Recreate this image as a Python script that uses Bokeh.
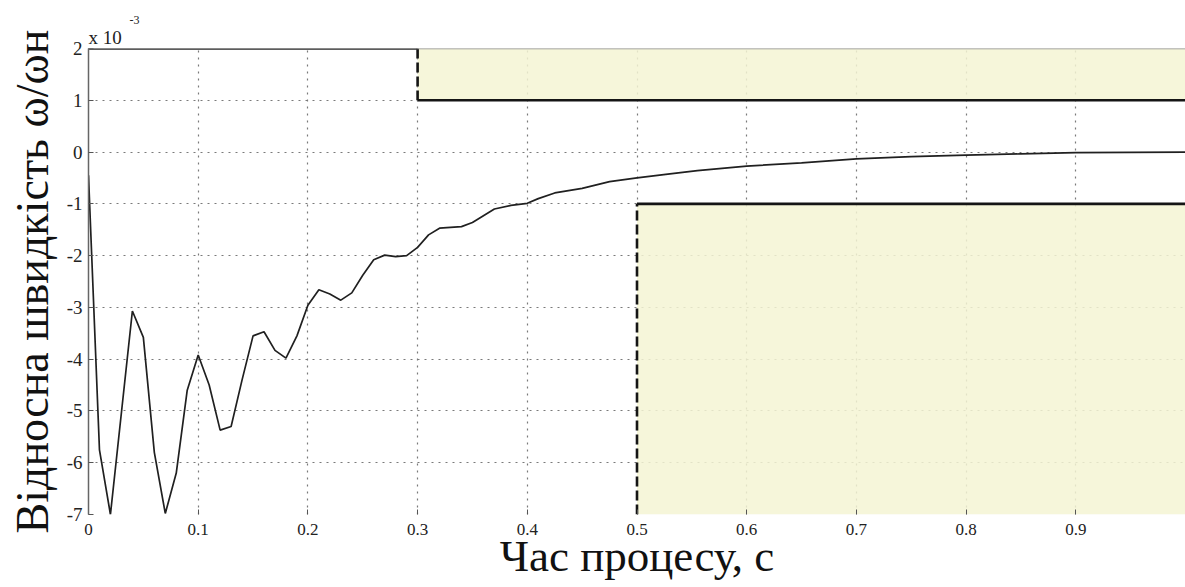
import numpy as np
from bokeh.plotting import figure
from bokeh.models import Span, FixedTicker, CustomJSTickFormatter, Range1d, Title
from bokeh.embed import file_html
from bokeh.resources import INLINE

# ---- data (speed in units of 1e-3) ----
time_s = [0.0, 0.01, 0.02, 0.04, 0.05, 0.06, 0.07, 0.08, 0.09, 0.10,
          0.11, 0.12, 0.13, 0.14, 0.15, 0.16, 0.17, 0.18, 0.19, 0.20,
          0.21, 0.22, 0.23, 0.24, 0.25, 0.26, 0.27, 0.28, 0.29, 0.30,
          0.31, 0.32, 0.34, 0.35, 0.37, 0.385, 0.40, 0.41, 0.425, 0.45,
          0.475, 0.50, 0.53, 0.555, 0.58, 0.60, 0.65, 0.70, 0.75, 0.80,
          0.85, 0.90, 1.00]
speed = [-0.45, -5.75, -7.0, -3.07, -3.58, -5.8, -6.98, -6.2, -4.6, -3.92,
         -4.5, -5.37, -5.3, -4.4, -3.55, -3.47, -3.83, -3.98, -3.55, -2.96,
         -2.66, -2.74, -2.86, -2.72, -2.38, -2.08, -1.99, -2.02, -2.0, -1.84,
         -1.6, -1.47, -1.44, -1.36, -1.1, -1.03, -0.99, -0.9, -0.79, -0.70,
         -0.57, -0.50, -0.42, -0.36, -0.31, -0.27, -0.21, -0.13, -0.09, -0.06,
         -0.035, -0.01, 0.0]

# permissible band boundaries
upper_switch_t = 0.3
upper_before = 2.0
upper_after = 1.0
lower_switch_t = 0.5
lower_after = -1.0
t_end = 1.0
y_min, y_max = -7.0, 2.0

x_ticks = [0.0, 0.1, 0.2, 0.3, 0.4, 0.5, 0.6, 0.7, 0.8, 0.9]
y_ticks = [-7, -6, -5, -4, -3, -2, -1, 0, 1, 2]

SERIF = "Liberation Serif"

p = figure(width=1185, height=587, output_backend="svg", toolbar_location=None,
           x_range=Range1d(0, t_end), y_range=Range1d(y_min, y_max),
           min_border_left=88, min_border_right=0, min_border_top=48,
           min_border_bottom=73, outline_line_color=None,
           background_fill_color="white", border_fill_color="white")

# exponent marker as titles
p.title.text = "-3"
p.title.align = "left"
p.title.offset = 41
p.title.standoff = 0
p.title.text_font = SERIF
p.title.text_font_size = "12px"
p.title.text_font_style = "normal"
p.title.text_color = "#222222"

# grids
for g in (p.xgrid, p.ygrid):
    g.grid_line_color = "#7a7a7a"
    g.grid_line_dash = "2 5"
    g.grid_line_width = 1.2

p.xaxis.ticker = FixedTicker(ticks=x_ticks)
p.yaxis.ticker = FixedTicker(ticks=y_ticks)
p.xaxis.formatter = CustomJSTickFormatter(code="return tick === 0 ? '0' : tick.toFixed(1);")
p.yaxis.formatter = CustomJSTickFormatter(code="return tick.toFixed(0);")

for ax in (p.xaxis, p.yaxis):
    ax.major_tick_in = 5
    ax.major_tick_out = 0
    ax.minor_tick_line_color = None
    ax.major_tick_line_color = "#555555"
    ax.major_label_text_font = SERIF
    ax.major_label_text_color = "#222222"
    ax.axis_label_text_font = SERIF
    ax.axis_label_text_font_style = "normal"
    ax.axis_label_text_color = "#111111"

p.xaxis.axis_line_color = None
p.xaxis.major_label_text_font_size = "17px"
p.xaxis.major_label_standoff = 9
p.xaxis.axis_label = "Час процесу, с"
p.xaxis.axis_label_text_font_size = "45px"
p.xaxis.axis_label_standoff = -7

p.yaxis.axis_line_color = "#666666"
p.yaxis.axis_line_width = 1.5
p.yaxis.major_label_text_font_size = "19px"
p.yaxis.major_label_standoff = 6
p.yaxis.axis_label = "Відносна швидкість ω/ωн"
p.yaxis.axis_label_text_font_size = "46px"
p.yaxis.axis_label_standoff = 6

p.add_layout(Title(text="x 10", align="left", offset=0, standoff=2, text_font=SERIF,
                   text_font_size="19px", text_font_style="normal",
                   text_color="#222222"), "above")

# frame top line
p.add_layout(Span(location=y_max, dimension="width", line_color="#888888", line_width=1.5))

# permissible zones
p.quad(left=[upper_switch_t], right=[t_end], bottom=[upper_after], top=[upper_before],
       fill_color="#f5f5d3", fill_alpha=0.85, line_color=None)
p.quad(left=[lower_switch_t], right=[t_end], bottom=[y_min], top=[lower_after],
       fill_color="#f5f5d3", fill_alpha=0.85, line_color=None)

BLK = "#151515"
p.line([0, upper_switch_t], [upper_before, upper_before], line_color=BLK, line_width=2.6)
p.line([upper_switch_t, t_end], [upper_after, upper_after], line_color=BLK, line_width=2.6)
p.line([upper_switch_t, upper_switch_t], [upper_before, upper_after], line_color=BLK,
       line_width=2.6, line_dash="10 4")
p.line([lower_switch_t, t_end], [lower_after, lower_after], line_color=BLK, line_width=2.6)
p.line([lower_switch_t, lower_switch_t], [y_min, lower_after], line_color=BLK,
       line_width=2.6, line_dash="10 4")

# speed curve
p.line(time_s, speed, line_color="#202020", line_width=1.7)

open("out.html", "w").write(file_html(p, INLINE))
